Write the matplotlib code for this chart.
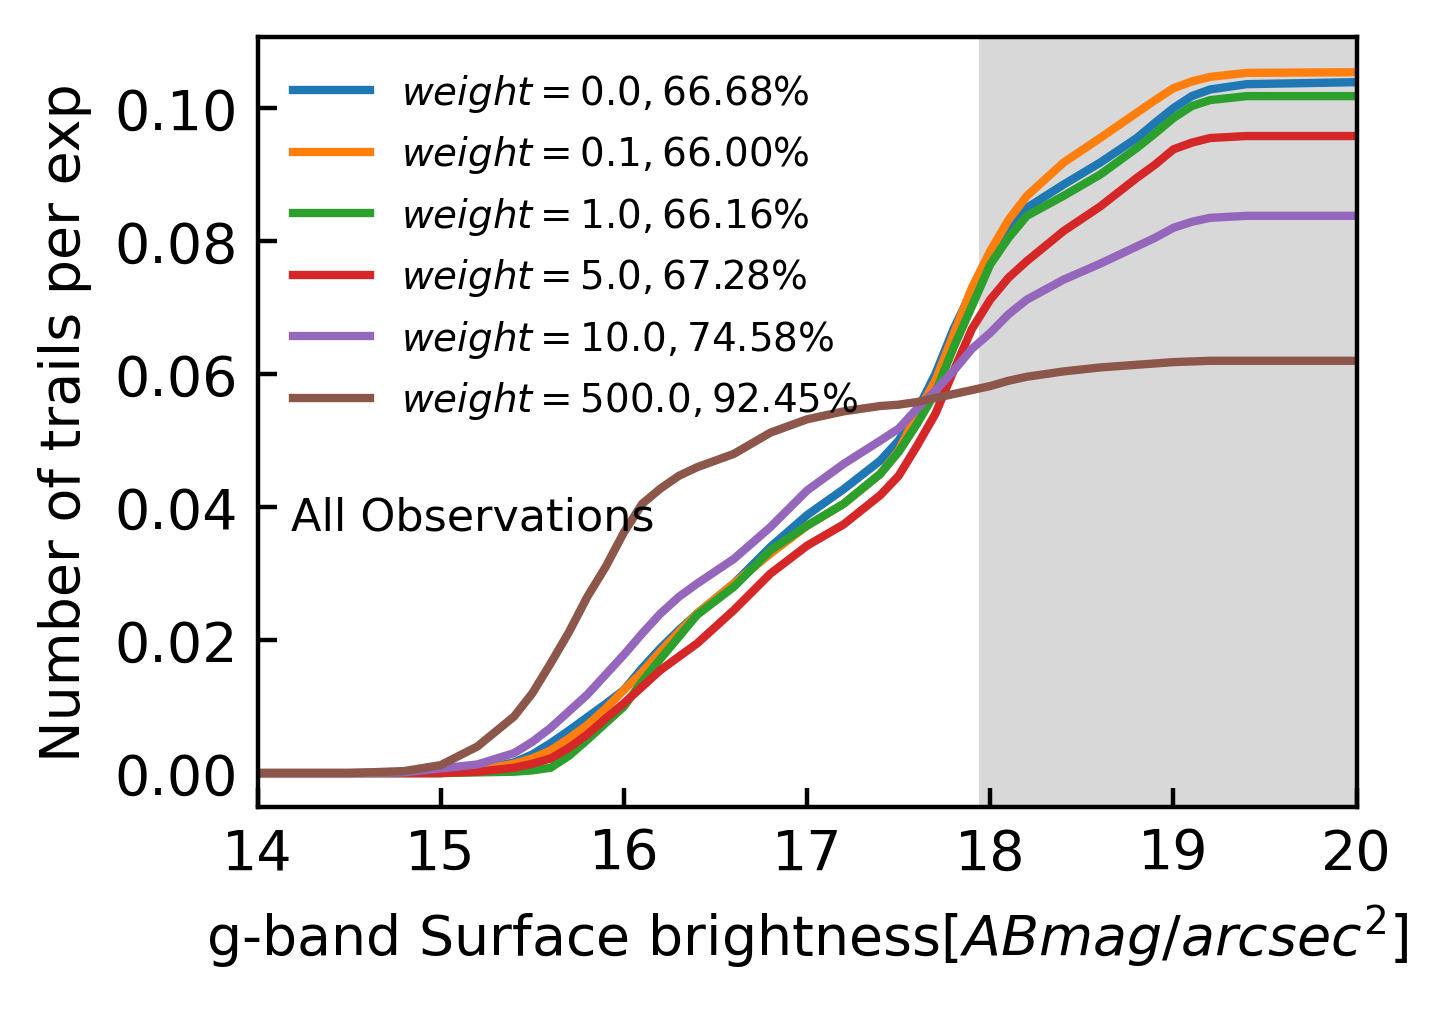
import numpy as np
import matplotlib.pyplot as plt

# surface brightness grid (g-band, ABmag/arcsec^2)
sb = [14.0, 14.5, 14.8, 15.0, 15.2, 15.4, 15.5, 15.6, 15.7, 15.8, 15.9, 16.0, 16.1, 16.2,
      16.3, 16.4, 16.6, 16.8, 17.0, 17.2, 17.4, 17.5, 17.6, 17.7, 17.8, 17.9, 18.0, 18.1,
      18.2, 18.4, 18.6, 18.8, 18.9, 19.0, 19.1, 19.2, 19.4, 20.0]

weights = [0.0, 0.1, 1.0, 5.0, 10.0, 500.0]
fractions = [66.68, 66.00, 66.16, 67.28, 74.58, 92.45]

trails_w0 = [0, 0, 0, 0, 0.0005, 0.0016, 0.0028, 0.0045, 0.0064, 0.0084, 0.0104, 0.0125, 0.0158,
             0.0188, 0.0215, 0.0240, 0.0285, 0.0340, 0.0388, 0.0427, 0.0470, 0.0500, 0.0545,
             0.0600, 0.0668, 0.0725, 0.0775, 0.0812, 0.0850, 0.0885, 0.0918, 0.0955, 0.0978,
             0.1000, 0.1018, 0.1028, 0.1036, 0.1039]
trails_w01 = [0, 0, 0, 0, 0.0004, 0.0014, 0.0022, 0.0034, 0.0052, 0.0072, 0.0097, 0.0125, 0.0152,
              0.0183, 0.0212, 0.0240, 0.0285, 0.0330, 0.0372, 0.0405, 0.0450, 0.0485, 0.0540,
              0.0590, 0.0660, 0.0730, 0.0785, 0.0832, 0.0868, 0.0918, 0.0955, 0.0993, 0.1012,
              0.1030, 0.1040, 0.1047, 0.1053, 0.1054]
trails_w1 = [0, 0, 0, 0, 0.0001, 0.0002, 0.0004, 0.0008, 0.0026, 0.0050, 0.0075, 0.0100, 0.0138,
             0.0172, 0.0205, 0.0238, 0.0280, 0.0335, 0.0372, 0.0405, 0.0450, 0.0483, 0.0525,
             0.0572, 0.0640, 0.0702, 0.0765, 0.0805, 0.0838, 0.0868, 0.0900, 0.0940, 0.0962,
             0.0985, 0.1003, 0.1012, 0.1018, 0.1018]
trails_w5 = [0, 0, 0, 0, 0.0002, 0.0008, 0.0014, 0.0022, 0.0038, 0.0058, 0.0082, 0.0105, 0.0130,
             0.0155, 0.0175, 0.0195, 0.0245, 0.0300, 0.0342, 0.0374, 0.0418, 0.0447, 0.0492,
             0.0540, 0.0605, 0.0668, 0.0712, 0.0745, 0.0770, 0.0815, 0.0852, 0.0895, 0.0915,
             0.0938, 0.0948, 0.0955, 0.0958, 0.0958]
trails_w10 = [0, 0, 0.0001, 0.0007, 0.0013, 0.0030, 0.0047, 0.0068, 0.0093, 0.0118, 0.0148, 0.0178,
              0.0210, 0.0240, 0.0265, 0.0285, 0.0322, 0.0370, 0.0425, 0.0465, 0.0500, 0.0518,
              0.0548, 0.0575, 0.0605, 0.0638, 0.0662, 0.0690, 0.0712, 0.0742, 0.0766, 0.0792,
              0.0805, 0.0820, 0.0829, 0.0835, 0.0838, 0.0838]
trails_w500 = [0, 0, 0.0003, 0.0012, 0.0040, 0.0085, 0.0120, 0.0165, 0.0212, 0.0265, 0.0310, 0.0362,
               0.0405, 0.0428, 0.0447, 0.0460, 0.0480, 0.0512, 0.0532, 0.0544, 0.0552, 0.0554,
               0.0558, 0.0564, 0.0570, 0.0576, 0.0582, 0.0590, 0.0596, 0.0604, 0.0610, 0.0614,
               0.0616, 0.0618, 0.0619, 0.0620, 0.0620, 0.0620]

all_trails = [trails_w0, trails_w01, trails_w1, trails_w5, trails_w10, trails_w500]
shade_start = 17.94

fig = plt.figure(figsize=(14.31 / 4, 10.12 / 4), dpi=400)
ax = fig.add_axes([0.180, 0.2016, 0.768, 0.7609])

ax.axvspan(shade_start, 20, color='grey', alpha=0.3, lw=0, zorder=0)

for w, frac, trails in zip(weights, fractions, all_trails):
    ax.plot(sb, trails, lw=1.5, label=r'$weight = %.1f, %.2f\%%$' % (w, frac))

ax.text(0.03, 0.377, 'All Observations', transform=ax.transAxes, fontsize=8,
        ha='left', va='center')

ax.set_xlim(14, 20)
ax.set_ylim(-0.0051, 0.1107)
ax.set_yticks([0.0, 0.02, 0.04, 0.06, 0.08, 0.10])
ax.tick_params(direction='in', labelsize=10)
ax.set_xlabel(r'g-band Surface brightness[$ABmag/arcsec^2$]', fontsize=10)
ax.set_ylabel('Number of trails per exp', fontsize=10)
ax.legend(loc='upper left', frameon=False, fontsize=7)

fig.savefig('out.png', dpi=400)
